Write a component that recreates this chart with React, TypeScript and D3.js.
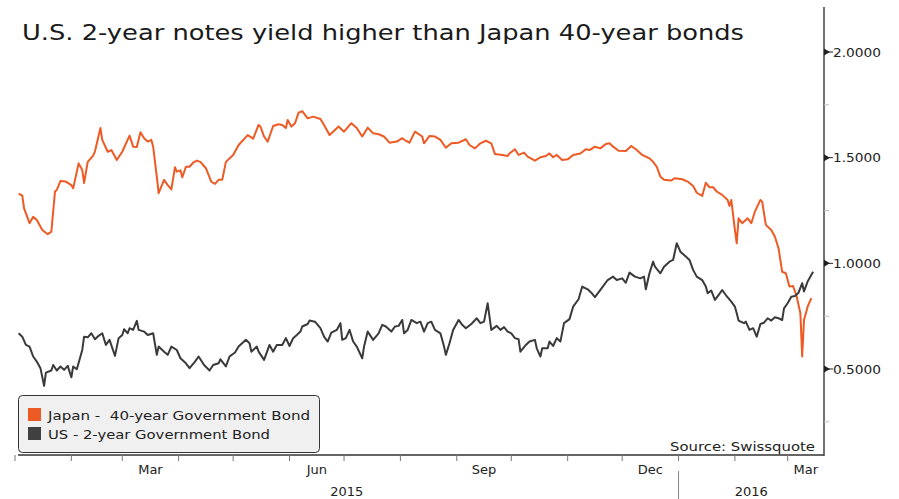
import React from "react";
import * as d3 from "d3";

const TITLE = "U.S. 2-year notes yield higher than Japan 40-year bonds";
const SERIES_NAMES = ["Japan -  40-year Government Bond", "US - 2-year Government Bond"];
const SOURCE = "Source: Swissquote";

// days since 2015-01-03
const japanDays = [0,2,3,6,8,10,13,16,18,20,21,23,26,29,30,33,35,36,38,41,42,45,46,49,51,54,57,61,63,65,67,69,71,73,74,76,77,80,82,84,86,87,89,90,92,94,96,98,100,103,106,108,110,112,114,118,121,126,129,132,133,135,137,140,143,145,147,148,150,152,154,156,159,162,166,168,171,174,176,179,183,186,189,192,195,198,201,204,208,211,213,215,218,222,223,226,229,232,235,238,242,246,248,251,254,257,260,262,266,269,270,273,275,278,280,284,287,290,292,294,296,299,302,305,309,312,314,317,320,323,325,327,330,334,337,340,343,347,349,351,353,355,359,361,365,368,371,373,376,378,380,382,384,387,390,391,392,394,395,396,398,401,403,405,408,409,411,414,416,418,420,422,424,426,428,430,431,432,434,436];
const japanYield = [1.33,1.32,1.26,1.19,1.22,1.205,1.158,1.138,1.15,1.34,1.347,1.39,1.387,1.37,1.355,1.473,1.442,1.38,1.48,1.51,1.53,1.64,1.584,1.528,1.536,1.489,1.528,1.604,1.552,1.55,1.62,1.592,1.576,1.584,1.552,1.41,1.332,1.395,1.37,1.35,1.455,1.434,1.44,1.407,1.457,1.457,1.476,1.486,1.48,1.45,1.386,1.376,1.395,1.395,1.48,1.513,1.56,1.607,1.59,1.655,1.647,1.6,1.576,1.65,1.658,1.655,1.64,1.678,1.647,1.663,1.713,1.72,1.686,1.694,1.683,1.655,1.607,1.631,1.647,1.623,1.663,1.64,1.6,1.642,1.615,1.611,1.6,1.571,1.576,1.592,1.58,1.571,1.623,1.6,1.568,1.603,1.6,1.584,1.547,1.568,1.571,1.587,1.56,1.544,1.568,1.58,1.568,1.517,1.513,1.508,1.52,1.54,1.513,1.524,1.505,1.486,1.502,1.508,1.52,1.502,1.513,1.489,1.492,1.513,1.52,1.54,1.536,1.552,1.544,1.565,1.568,1.552,1.533,1.532,1.555,1.536,1.513,1.497,1.48,1.457,1.41,1.395,1.392,1.403,1.398,1.387,1.366,1.334,1.319,1.381,1.36,1.36,1.34,1.324,1.3,1.272,1.3,1.158,1.095,1.213,1.19,1.213,1.19,1.245,1.3,1.292,1.182,1.158,1.126,1.071,0.96,0.953,0.89,0.893,0.842,0.764,0.559,0.732,0.795,0.835];

const usDays = [0,2,4,6,8,10,12,14,15,18,19,21,23,25,27,29,30,32,35,36,38,40,42,44,46,48,50,53,55,57,58,60,61,63,65,66,69,71,74,76,77,80,82,84,87,89,92,94,97,99,102,105,107,110,111,114,116,119,121,125,127,128,131,132,135,138,140,142,145,147,149,151,153,155,156,159,160,163,166,168,170,172,175,177,178,180,182,184,186,189,190,192,195,198,200,202,205,207,209,211,212,214,216,219,221,223,225,227,229,232,234,235,237,239,242,244,246,249,252,254,256,258,260,263,265,267,269,271,273,275,276,279,281,284,285,287,288,291,292,294,296,298,300,303,305,308,310,313,315,317,320,324,327,329,332,334,336,339,342,344,345,347,349,350,353,355,358,360,362,364,367,369,371,373,376,378,379,381,383,385,387,389,392,394,395,396,399,400,402,404,406,408,410,412,414,416,418,420,421,423,425,427,429,431,432,434,437];
const usYield = [0.669,0.653,0.614,0.606,0.559,0.535,0.504,0.42,0.483,0.493,0.519,0.493,0.512,0.496,0.515,0.461,0.512,0.499,0.59,0.653,0.65,0.669,0.641,0.657,0.669,0.614,0.638,0.562,0.646,0.661,0.688,0.669,0.693,0.685,0.728,0.685,0.677,0.661,0.669,0.567,0.606,0.582,0.567,0.606,0.59,0.551,0.527,0.504,0.535,0.559,0.519,0.493,0.519,0.527,0.546,0.512,0.559,0.578,0.606,0.638,0.622,0.582,0.606,0.582,0.543,0.614,0.582,0.614,0.614,0.646,0.609,0.646,0.661,0.677,0.701,0.713,0.729,0.724,0.693,0.653,0.63,0.672,0.685,0.717,0.638,0.646,0.685,0.63,0.606,0.551,0.606,0.677,0.638,0.669,0.709,0.701,0.677,0.701,0.704,0.732,0.669,0.685,0.732,0.717,0.724,0.677,0.717,0.724,0.685,0.669,0.606,0.567,0.622,0.685,0.732,0.709,0.693,0.713,0.74,0.717,0.724,0.811,0.685,0.704,0.685,0.698,0.677,0.669,0.646,0.641,0.582,0.614,0.63,0.638,0.598,0.559,0.598,0.598,0.63,0.609,0.646,0.63,0.717,0.736,0.795,0.83,0.89,0.877,0.861,0.84,0.874,0.921,0.937,0.921,0.929,0.908,0.956,0.937,0.929,0.937,0.877,0.953,1.008,0.984,0.953,0.984,1.008,1.016,1.095,1.055,1.032,1.016,0.969,0.937,0.921,0.89,0.859,0.871,0.827,0.85,0.874,0.85,0.819,0.795,0.764,0.729,0.717,0.724,0.685,0.693,0.653,0.713,0.719,0.74,0.729,0.745,0.74,0.732,0.787,0.811,0.842,0.845,0.861,0.906,0.867,0.914,0.96];

const yMajorTicks = [0.5, 1.0, 1.5, 2.0];
const yMinorTicks = [0.25, 0.75, 1.25, 1.75];
const monthLabelMonths = [2, 5, 8, 11]; // Mar, Jun, Sep, Dec
const yearLabels = [2015, 2016];

const COLORS = { japan: "#ee5a24", us: "#3a3a3a" };
const FONT = "'DejaVu Sans', Verdana, sans-serif";

const START = new Date(2015, 0, 3);
const X_START = new Date(2015, 0, 1);
const X_END = new Date(2016, 2, 21);

function toPoints(days: number[], vals: number[]) {
  const n = Math.min(days.length, vals.length);
  return d3.range(n).map((i) => ({ date: d3.timeDay.offset(START, days[i]), v: vals[i] }));
}

export default function App() {
  const W = 899, H = 499;
  const axisX = 824, axisTop = 7, axisBottom = 455, plotLeft = 18;
  const x = d3.scaleTime().domain([X_START, X_END]).range([15, axisX]);
  const y = d3.scaleLinear().domain([0.5, 2.0]).range([369, 52]);

  const line = d3.line<{ date: Date; v: number }>()
    .x((d) => x(d.date))
    .y((d) => y(d.v))
    .curve(d3.curveLinear);

  const japan = toPoints(japanDays, japanYield);
  const us = toPoints(usDays, usYield);

  const monthStarts = d3.timeMonth.range(d3.timeMonth.ceil(X_START), X_END);
  const fmt = d3.timeFormat("%b");
  const monthLabels: { x: number; text: string }[] = [];
  d3.timeMonth.range(X_START, X_END).forEach((m) => {
    if (monthLabelMonths.includes(m.getMonth())) {
      const a = Math.max(x(m), x(X_START));
      const b = Math.min(x(d3.timeMonth.offset(m, 1)), axisX);
      monthLabels.push({ x: (a + b) / 2, text: fmt(m) });
    }
  });
  const yearPos = yearLabels.map((yr) => {
    const a = Math.max(x(new Date(yr, 0, 1)), x(X_START));
    const b = Math.min(x(new Date(yr + 1, 0, 1)), axisX);
    return { x: (a + b) / 2, text: String(yr) };
  });
  const yearSep = x(new Date(2016, 0, 1));
  const yFmt = d3.format(".4f");

  return (
    <svg width={W} height={H} style={{ position: "absolute", left: 0, top: 0, background: "#fff" }} fontFamily={FONT}>
      <rect x={0} y={0} width={W} height={H} fill="#fff" />
      <text x={22} y={40} fontSize={21} fill="#1a1a1a" textLength={722} lengthAdjust="spacingAndGlyphs">{TITLE}</text>

      {/* lines */}
      <path d={line(japan) || ""} fill="none" stroke={COLORS.japan} strokeWidth={2} strokeLinejoin="round" />
      <path d={line(us) || ""} fill="none" stroke={COLORS.us} strokeWidth={2} strokeLinejoin="round" />

      {/* legend */}
      <rect x={18.5} y={395.5} width={301} height={57} rx={4} fill="#f0f0f0" stroke="#333" strokeWidth={1} />
      <rect x={28} y={408} width={13} height={13} fill={COLORS.japan} />
      <rect x={28} y={427} width={13} height={13} fill="#404040" />
      <text x={48} y={420} fontSize={13} fill="#222" textLength={262} lengthAdjust="spacingAndGlyphs" style={{ whiteSpace: "pre" }}>{SERIES_NAMES[0]}</text>
      <text x={48} y={439} fontSize={13} fill="#222" textLength={222} lengthAdjust="spacingAndGlyphs" style={{ whiteSpace: "pre" }}>{SERIES_NAMES[1]}</text>

      {/* source */}
      <text x={815} y={451} fontSize={13} fill="#222" textAnchor="end" textLength={145} lengthAdjust="spacingAndGlyphs">{SOURCE}</text>

      {/* x axis */}
      <line x1={plotLeft} x2={axisX} y1={axisBottom} y2={axisBottom} stroke="#333" strokeWidth={1.5} />
      {monthStarts.map((m, i) => (
        <line key={i} x1={x(m)} x2={x(m)} y1={axisBottom} y2={axisBottom + 6} stroke="#777" strokeWidth={1} />
      ))}
      {monthLabels.map((l, i) => (
        <text key={i} x={l.x} y={474} fontSize={13} fill="#222" textAnchor="middle">{l.text}</text>
      ))}
      {yearPos.map((l, i) => (
        <text key={i} x={l.x} y={496} fontSize={13} fill="#222" textAnchor="middle">{l.text}</text>
      ))}
      <line x1={yearSep} x2={yearSep} y1={471} y2={499} stroke="#888" strokeWidth={1} />

      {/* right y axis */}
      <line x1={axisX} x2={axisX} y1={axisTop} y2={axisBottom + 1} stroke="#444" strokeWidth={1.5} />
      {yMinorTicks.map((t, i) => (
        <line key={i} x1={axisX} x2={axisX + 5} y1={y(t)} y2={y(t)} stroke="#bbb" strokeWidth={1} />
      ))}
      {yMajorTicks.map((t, i) => (
        <g key={i} transform={`translate(${axisX},${y(t)})`}>
          <path d="M0,-3.5 L6,0 L0,3.5 Z" fill="#222" />
          <line x1={0} x2={9} y1={0} y2={0} stroke="#222" strokeWidth={1} />
          <text x={9} y={4.5} fontSize={12} fill="#222" textLength={48} lengthAdjust="spacingAndGlyphs">{yFmt(t)}</text>
        </g>
      ))}
    </svg>
  );
}
